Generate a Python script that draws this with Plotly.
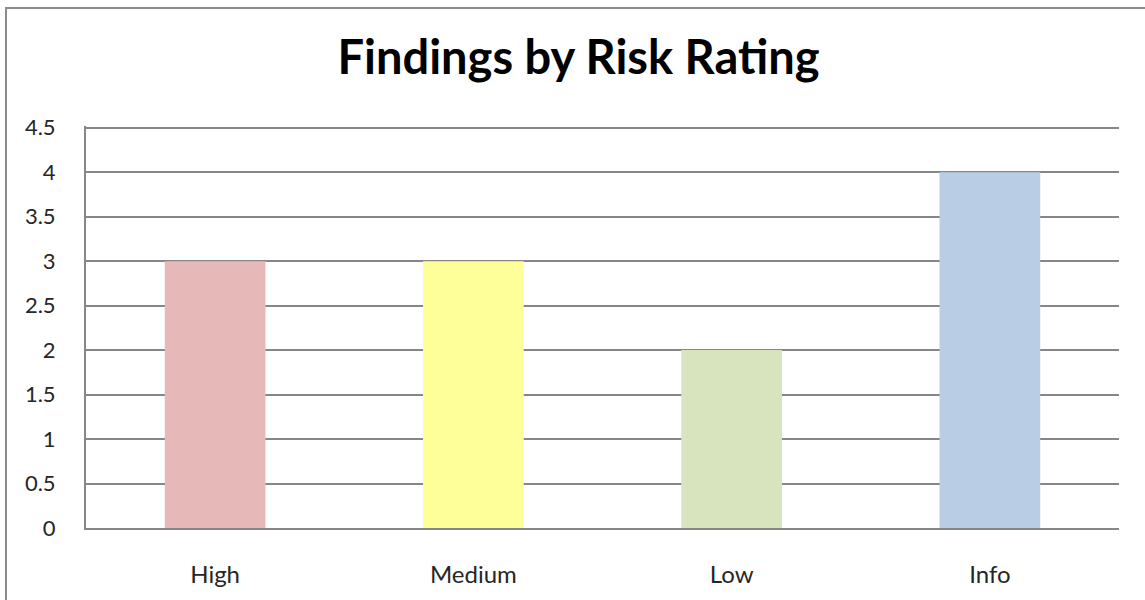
import plotly.graph_objects as go

categories = ["High", "Medium", "Low", "Info"]
values = [3, 3, 2, 4]
bar_colors = ["#E6B9B8", "#FFFF99", "#D7E4BD", "#B9CDE5"]
y_ticks = [0, 0.5, 1, 1.5, 2, 2.5, 3, 3.5, 4, 4.5]
y_tick_labels = ["0", "0.5", "1", "1.5", "2", "2.5", "3", "3.5", "4", "4.5"]

fig = go.Figure()
fig.add_trace(go.Bar(x=categories, y=values, marker=dict(color=bar_colors, line=dict(width=0)),
                     hoverinfo="x+y"))

W, H = 1145, 600
L, R, T, B = 86, 26, 126, 65
pw = W - L - R
ph = H - T - B

def px_x(p):
    return (p - L) / pw

def px_y(p):
    return (H - B - p) / ph

fig.update_layout(
    width=W, height=H,
    margin=dict(l=L, r=R, t=T, b=B, pad=0),
    paper_bgcolor="white", plot_bgcolor="white",
    bargap=0.61,
    showlegend=False,
    title=dict(text="<b>Findings by Risk Rating</b>", x=(W + 12) / 2 / W, xanchor="center",
               y=(H - 58) / H, yanchor="middle", xref="container", yref="container",
               font=dict(family="Lato, Open Sans, sans-serif", size=47, color="#000000")),
    font=dict(family="Lato, Open Sans, sans-serif", size=22, color="#262626"),
    xaxis=dict(showgrid=False, showline=True, linecolor="#868686", linewidth=2,
               ticks="", ticklabelstandoff=24, tickfont=dict(size=24, color="#262626")),
    yaxis=dict(range=[0, 4.52], tickvals=y_ticks, ticktext=y_tick_labels, showgrid=True,
               gridcolor="#868686", gridwidth=1.5, showline=True, linecolor="#868686",
               linewidth=2, ticks="", ticklabelstandoff=24, zeroline=False,
               tickfont=dict(size=22, color="#262626")),
    shapes=[dict(type="rect", xref="paper", yref="paper",
                 x0=px_x(6), x1=px_x(1160), y0=px_y(615), y1=px_y(6),
                 line=dict(color="#8C8C8C", width=2), fillcolor="rgba(0,0,0,0)", layer="above")],
)

fig.write_html("out.html")
